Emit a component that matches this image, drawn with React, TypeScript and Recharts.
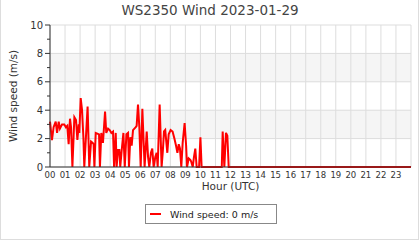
import { LineChart, Line, XAxis, YAxis, CartesianGrid, Legend } from 'recharts';

const chartTitle = 'WS2350 Wind 2023-01-29';
const seriesName = 'Wind speed: 0 m/s';

// sample times in hours (UTC) and wind speed in m/s
const hours = [
  0.0, 0.13, 0.24, 0.38, 0.47, 0.58, 0.66, 0.8, 0.95, 1.06, 1.15, 1.24, 1.33, 1.4, 1.49, 1.62, 1.73, 1.82, 1.91, 1.95,
  2.04, 2.13, 2.22, 2.28, 2.5, 2.61, 2.73, 2.84, 2.9, 2.95, 3.04, 3.26, 3.32, 3.41, 3.52, 3.59, 3.66, 3.74, 3.86, 3.97,
  4.08, 4.19, 4.26, 4.37, 4.43, 4.52, 4.61, 4.67, 4.76, 4.88, 4.97, 5.08, 5.19, 5.25, 5.34, 5.43, 5.52, 5.61, 5.7, 5.76,
  5.85, 5.94, 6.03, 6.14, 6.29, 6.43, 6.52, 6.6, 6.71, 6.8, 6.89, 7.0, 7.09, 7.16, 7.29, 7.42, 7.5, 7.58, 7.66, 7.8,
  7.89, 8.02, 8.15, 8.27, 8.38, 8.47, 8.56, 8.64, 8.73, 8.82, 8.95, 9.05, 9.11, 9.22, 9.33, 9.38, 9.49, 9.57, 9.66, 9.75,
  9.91, 10.0, 10.08, 11.42, 11.48, 11.59, 11.7, 11.79, 11.88, 24.0,
];
const speeds = [
  3.2, 1.9, 2.8, 3.2, 2.4, 3.2, 2.7, 3.0, 3.0, 2.8, 2.9, 1.6, 3.4, 2.8, 0, 3.5, 3.3, 1.9, 3.0, 2.4,
  4.85, 4.0, 2.1, 0, 4.25, 0, 1.8, 1.7, 1.6, 0, 2.4, 2.3, 0, 2.4, 1.7, 2.8, 3.9, 2.4, 2.7, 2.6,
  2.4, 2.5, 0, 2.4, 0, 1.2, 1.2, 0, 1.1, 2.4, 0, 2.3, 2.4, 0, 2.1, 1.5, 2.6, 2.7, 2.8, 2.9,
  4.4, 2.8, 0, 4.1, 0, 2.5, 0.7, 0, 1.0, 1.3, 0, 0.7, 1.0, 0, 4.4, 0, 1.1, 2.5, 2.6, 1.0,
  2.3, 2.6, 2.5, 2.0, 1.5, 1.0, 1.6, 1.3, 0, 1.7, 3.1, 1.5, 0, 0.6, 0.5, 0.4, 0, 0.7, 1.3, 0,
  0, 2.1, 0, 0, 2.5, 0, 2.4, 2.2, 0, 0,
];

const hourTicks = [0, 1, 2, 3, 4, 5, 6, 7, 8, 9, 10, 11, 12, 13, 14, 15, 16, 17, 18, 19, 20, 21, 22, 23, 24];
const speedTicks = [0, 1, 2, 3, 4, 5, 6, 7, 8, 9, 10];
const speedGrid = [0, 2, 4, 6, 8, 10];

const data = hours.map((h, i) => ({ hour: h, speed: speeds[i] }));

const FONT = '"DejaVu Sans", sans-serif';

function SpeedTick(props: any) {
  const { x, y, payload } = props;
  const major = payload.value % 2 === 0;
  return (
    <g>
      <line x1={x + (major ? 2 : 4)} x2={x + 7} y1={y} y2={y} stroke="#333" />
      {major && (
        <text x={x} y={y} dy={3.5} textAnchor="end" fontSize={10} fill="#333" fontFamily={FONT}>
          {payload.value}
        </text>
      )}
    </g>
  );
}

function WindLegend(props: any) {
  const item = props.payload && props.payload[0];
  return (
    <div
      style={{
        boxSizing: 'border-box',
        width: 132,
        height: 20,
        border: '1px solid #888',
        display: 'flex',
        alignItems: 'center',
        fontFamily: FONT,
        fontSize: 9.5,
        color: '#222',
        background: '#fff',
      }}
    >
      <span style={{ display: 'inline-block', width: 11, height: 2, marginLeft: 4, background: item ? item.color : '#f00' }} />
      <span style={{ marginLeft: 9, whiteSpace: 'nowrap' }}>{item ? item.value : seriesName}</span>
    </div>
  );
}

export default function App() {
  return (
    <div style={{ position: 'absolute', left: 0, top: 0, width: 420, height: 240, fontFamily: FONT, background: '#fff' }}>
      <div
        style={{
          position: 'absolute',
          left: 0,
          top: 0,
          width: 420,
          lineHeight: '21px',
          textAlign: 'center',
          fontSize: 13.5,
          color: '#444',
        }}
      >
        {chartTitle}
      </div>
      <LineChart width={420} height={240} data={data} margin={{ top: 25, right: 9, bottom: 0, left: 0 }}>
        <CartesianGrid
          stroke="#ddd"
          horizontalValues={speedGrid}
          horizontalFill={['#ffffff', '#f5f5f5']}
          fillOpacity={1}
        />
        <XAxis
          dataKey="hour"
          type="number"
          domain={[0, 24]}
          ticks={hourTicks}
          interval={0}
          height={73}
          tickLine={false}
          tickSize={3}
          tickMargin={2}
          stroke="#333"
          tick={{ fontSize: 8.5, fill: '#333' }}
          tickFormatter={(v: number) => (v === 24 ? '' : String(v).padStart(2, '0'))}
          label={{ value: 'Hour (UTC)', position: 'insideTop', offset: 16, fontSize: 10.5, fill: '#333' }}
        />
        <YAxis
          type="number"
          domain={[0, 10]}
          ticks={speedTicks}
          interval={0}
          width={50}
          tickLine={false}
          tickSize={5}
          tickMargin={2}
          stroke="#333"
          tick={<SpeedTick />}
          label={{
            value: 'Wind speed (m/s)',
            angle: -90,
            position: 'insideLeft',
            offset: 13,
            fontSize: 10.5,
            fill: '#333',
            style: { textAnchor: 'middle' },
          }}
        />
        <Legend
          verticalAlign="middle"
          align="center"
          content={<WindLegend />}
          wrapperStyle={{ left: 145, top: 204, width: 132, height: 20 }}
        />
        <Line
          type="linear"
          dataKey="speed"
          name={seriesName}
          stroke="#ff0000"
          strokeWidth={2}
          dot={false}
          isAnimationActive={false}
        />
      </LineChart>
      <div
        style={{
          position: 'absolute',
          left: 0,
          top: -1,
          width: 419,
          height: 241,
          boxSizing: 'border-box',
          border: '1px solid #ddd',
          pointerEvents: 'none',
        }}
      />
    </div>
  );
}
